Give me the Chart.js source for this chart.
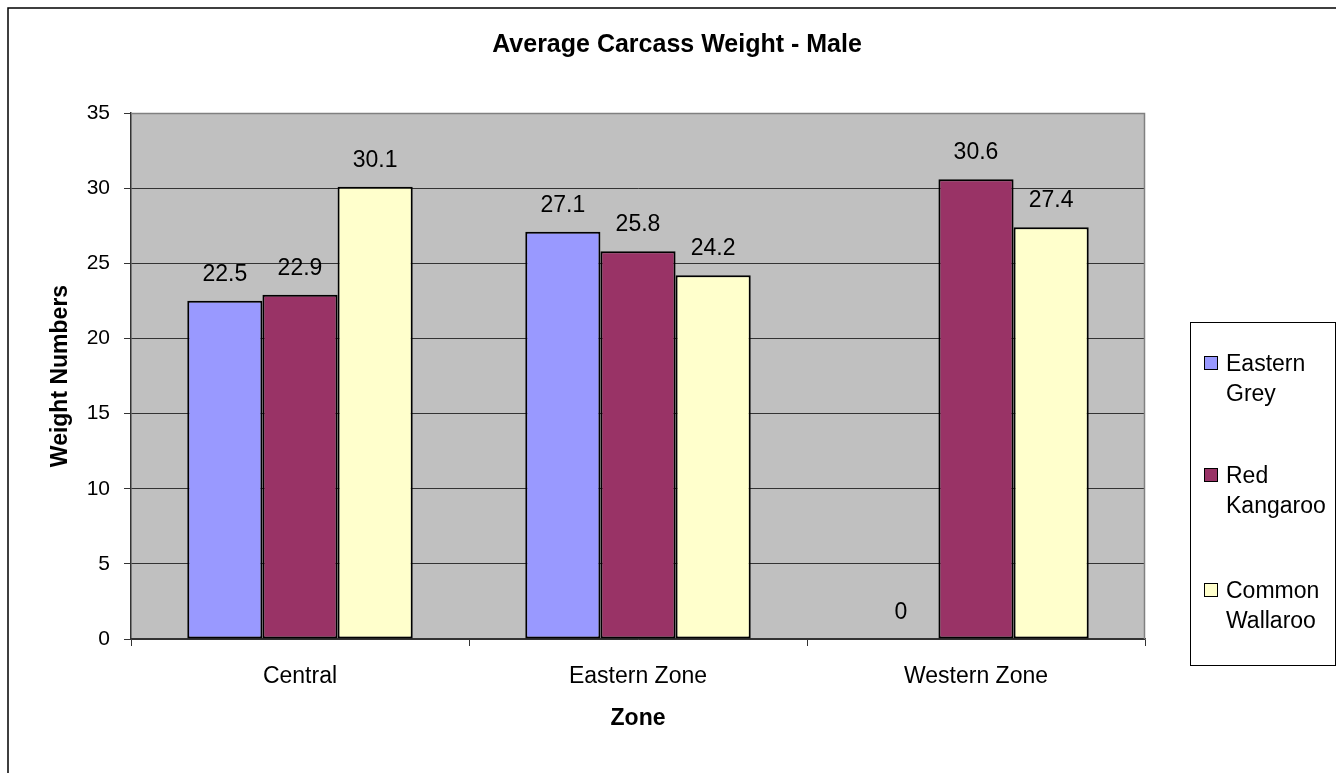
<!DOCTYPE html>
<html>
<head>
<meta charset="utf-8">
<script src="https://cdn.jsdelivr.net/npm/chart.js@4"></script>
<style>
html,body{margin:0;padding:0;background:#fff;}
canvas{display:block;}
</style>
</head>
<body>
<canvas id="c" width="1336" height="773"></canvas>
<script>
const categories = ["Central", "Eastern Zone", "Western Zone"];
const seriesNames = ["Eastern Grey", "Red Kangaroo", "Common Wallaroo"];
const legendLines = [["Eastern", "Grey"], ["Red", "Kangaroo"], ["Common", "Wallaroo"]];
const easternGrey = [22.5, 27.1, 0];
const redKangaroo = [22.9, 25.8, 30.6];
const commonWallaroo = [30.1, 24.2, 27.4];
const yTicks = [0, 5, 10, 15, 20, 25, 30, 35];
const colors = ["#9999FF", "#993366", "#FFFFCC"];
const titleText = "Average Carcass Weight - Male";
const xTitle = "Zone";
const yTitle = "Weight Numbers";
const FONT = "'Liberation Sans', Arial, sans-serif";

const decor = {
  id: 'decor',
  beforeDraw(chart) {
    const ctx = chart.ctx, a = chart.chartArea;
    ctx.save();
    ctx.fillStyle = '#fff';
    ctx.fillRect(0, 0, chart.width, chart.height);
    ctx.strokeStyle = '#000';
    ctx.lineWidth = 1.5;
    ctx.beginPath();
    ctx.moveTo(8, chart.height + 5);
    ctx.lineTo(8, 8);
    ctx.lineTo(chart.width + 5, 8);
    ctx.stroke();
    ctx.fillStyle = '#C0C0C0';
    ctx.fillRect(a.left, a.top, a.right - a.left, a.bottom - a.top);
    ctx.restore();
  },
  afterDatasetsDraw(chart) {
    const ctx = chart.ctx, a = chart.chartArea;
    ctx.save();
    ctx.strokeStyle = '#808080';
    ctx.lineWidth = 1.5;
    ctx.beginPath();
    ctx.moveTo(a.left, a.top + 0.5);
    ctx.lineTo(a.right - 0.5, a.top + 0.5);
    ctx.lineTo(a.right - 0.5, a.bottom);
    ctx.stroke();
    ctx.fillStyle = '#000';
    ctx.font = "23px " + FONT;
    ctx.textAlign = 'center';
    ctx.textBaseline = 'alphabetic';
    chart.data.datasets.forEach((ds, i) => {
      const meta = chart.getDatasetMeta(i);
      meta.data.forEach((bar, j) => {
        ctx.fillText(String(ds.data[j]), bar.x, bar.y - 20);
      });
    });
    ctx.restore();
  },
  afterDraw(chart) {
    const ctx = chart.ctx, a = chart.chartArea;
    ctx.save();
    ctx.fillStyle = '#000';
    ctx.textAlign = 'center';
    ctx.textBaseline = 'alphabetic';
    ctx.font = "bold 25px " + FONT;
    ctx.fillText(titleText, 677, 52);
    ctx.font = "bold 23px " + FONT;
    ctx.fillText(xTitle, (a.left + a.right) / 2, 725);
    ctx.save();
    ctx.translate(67, (a.top + a.bottom) / 2);
    ctx.rotate(-Math.PI / 2);
    ctx.font = "bold 23px " + FONT;
    ctx.fillText(yTitle, 0, 0);
    ctx.restore();
    const lx = 1190.5, ly = 322.5, lw = 145, lh = 343;
    ctx.strokeStyle = '#000';
    ctx.lineWidth = 1;
    ctx.strokeRect(lx, ly, lw, lh);
    ctx.font = "23px " + FONT;
    ctx.textAlign = 'left';
    const starts = [363, 475, 590];
    legendLines.forEach((lines, i) => {
      const cy = starts[i];
      ctx.fillStyle = colors[i];
      ctx.fillRect(1204.5, cy - 6.5, 13, 13);
      ctx.strokeStyle = '#000';
      ctx.strokeRect(1204.5, cy - 6.5, 13, 13);
      ctx.fillStyle = '#000';
      lines.forEach((t, k) => {
        ctx.fillText(t, 1226, cy + 8 + k * 30);
      });
    });
    ctx.restore();
  }
};

const seriesData = [easternGrey, redKangaroo, commonWallaroo];
new Chart(document.getElementById('c'), {
  type: 'bar',
  data: {
    labels: categories,
    datasets: seriesNames.map((n, i) => ({
      label: n,
      data: seriesData[i],
      backgroundColor: colors[i],
      borderColor: '#000',
      borderWidth: 2,
      borderSkipped: false,
      categoryPercentage: 0.667,
      barPercentage: 1.0
    }))
  },
  options: {
    responsive: false,
    animation: false,
    devicePixelRatio: 1,
    layout: { padding: { left: 0, right: 191, top: 113, bottom: 0 } },
    plugins: { legend: { display: false }, title: { display: false }, tooltip: { enabled: false } },
    scales: {
      y: {
        min: 0, max: 35,
        afterFit(s) { s.width = 131; },
        afterBuildTicks(s) { s.ticks = yTicks.map(v => ({ value: v })); },
        ticks: { font: { family: FONT, size: 21 }, color: '#000', padding: 14 },
        grid: { color: '#333', lineWidth: 1, tickLength: 7, tickColor: '#333' },
        border: { display: true, color: '#333', width: 1.5 }
      },
      x: {
        afterFit(s) { s.height = 134; },
        ticks: { font: { family: FONT, size: 23 }, color: '#000', padding: 17 },
        grid: { offset: true, drawOnChartArea: false, tickLength: 7, color: '#333' },
        border: { display: true, color: '#333', width: 1.5 }
      }
    }
  },
  plugins: [decor]
});
</script>
</body>
</html>
